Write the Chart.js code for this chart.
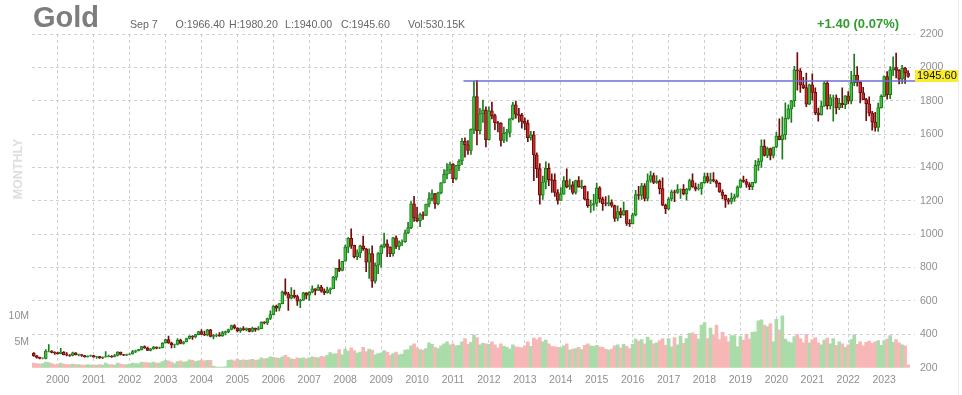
<!DOCTYPE html>
<html>
<head>
<meta charset="utf-8">
<title>Gold monthly</title>
<script src="https://cdn.jsdelivr.net/npm/chart.js@4.4.0/dist/chart.umd.min.js"></script>
<style>
  html, body { margin: 0; padding: 0; background: #fff; }
  #wrap { width: 962px; height: 395px; }
</style>
</head>
<body>
<div id="wrap"><canvas id="gold" width="962" height="395"></canvas></div>
<script>
// monthly candles, first one is May 1999 (x counted in months from Jan 2000)
const firstMonth = -8;

const opens = [
  287,271,262,255,255,299,300,292,
  289,284,293,278,275,273,289,277,278,273,264,270,
  273,265,267,258,264,266,270,265,273,293,279,275,
  279,282,297,301,308,326,318,304,313,324,317,319,
  348,368,348,336,339,364,346,354,375,388,384,398,
  417,400,397,427,387,394,395,391,410,416,429,453,
  438,422,435,428,435,418,437,429,434,473,470,495,
  518,569,557,584,654,643,616,634,626,599,604,648,
  635,652,672,663,683,659,650,666,673,743,795,783,
  838,923,975,933,865,888,930,913,833,884,718,814,
  884,928,942,923,883,979,927,955,955,1008,1040,1182,
  1097,1081,1118,1113,1180,1213,1244,1181,1248,1308,1359,1386,
  1421,1333,1411,1439,1556,1536,1502,1628,1825,1620,1722,1746,
  1566,1740,1711,1669,1664,1562,1604,1610,1691,1776,1719,1712,
  1676,1664,1578,1596,1476,1393,1234,1312,1395,1327,1323,1250,
  1202,1240,1321,1284,1296,1250,1322,1282,1287,1210,1171,1175,
  1184,1278,1212,1183,1182,1190,1172,1095,1135,1115,1142,1065,
  1061,1116,1238,1233,1290,1215,1322,1351,1311,1317,1273,1174,
  1152,1211,1254,1251,1268,1269,1242,1269,1322,1284,1271,1275,
  1309,1345,1318,1327,1319,1305,1253,1233,1206,1196,1215,1226,
  1282,1325,1316,1298,1285,1311,1413,1437,1529,1472,1514,1472,
  1523,1588,1566,1596,1694,1751,1800,1986,1978,1895,1879,1780,
  1895,1850,1728,1715,1768,1906,1771,1817,1818,1757,1784,1776,
  1829,1797,1909,1954,1911,1848,1807,1782,1726,1672,1640,1759,
  1826,1945,1836,1986,1999,1982,1929,1995,1966.4
];
const highs = [
  291,274,264,259,308,339,302,295,
  294,316,297,290,278,293,290,281,279,274,271,276,
  274,268,268,265,296,275,272,280,297,294,280,282,
  285,304,306,310,328,331,323,316,328,325,323,350,
  372,390,354,341,374,371,358,378,393,392,400,418,
  429,420,430,430,398,403,410,418,419,431,456,458,
  440,439,447,439,436,443,438,447,475,477,497,541,
  573,576,585,659,732,652,680,665,635,612,651,650,
  656,691,674,697,694,673,683,678,748,797,848,838,
  935,980,1033,935,906,935,989,916,912,930,828,890,
  936,1007,966,924,982,990,960,966,1025,1072,1196,1227,
  1162,1127,1134,1181,1249,1266,1245,1252,1310,1388,1424,1432,
  1424,1413,1447,1575,1577,1561,1632,1917,1923,1755,1804,1763,
  1764,1792,1720,1676,1669,1642,1629,1693,1790,1798,1755,1725,
  1697,1684,1616,1617,1488,1424,1348,1434,1424,1362,1362,1267,
  1280,1345,1392,1331,1315,1325,1345,1324,1290,1255,1205,1239,
  1307,1286,1223,1225,1232,1206,1175,1170,1157,1192,1142,1088,
  1126,1263,1287,1305,1304,1362,1377,1366,1352,1326,1338,1180,
  1220,1264,1264,1298,1272,1297,1275,1331,1362,1306,1300,1311,
  1366,1367,1366,1370,1326,1309,1266,1236,1215,1246,1241,1290,
  1331,1349,1330,1310,1311,1443,1453,1566,1566,1522,1517,1523,
  1611,1692,1704,1788,1775,1803,2006,2089,1993,1941,1966,1900,
  1962,1877,1756,1798,1916,1919,1837,1834,1836,1814,1877,1831,
  1855,1976,2079,2004,1914,1880,1814,1824,1736,1731,1786,1835,
  1950,1975,2004,2063,2085,1987,2012,2000,1980.2
];
const lows = [
  268,257,252,252,253,294,288,280,
  281,283,276,271,268,271,276,270,268,263,263,268,
  262,255,255,254,263,264,262,264,271,276,272,272,
  277,281,290,300,306,316,302,300,311,312,314,318,
  347,345,319,320,337,342,341,354,372,370,378,396,
  399,392,391,384,372,385,387,388,396,408,426,432,
  415,412,424,420,414,415,418,425,434,462,458,488,
  516,537,540,582,635,543,612,616,573,560,603,612,
  603,648,636,663,652,637,647,642,673,725,776,780,
  838,890,915,858,848,860,903,775,735,681,706,763,
  802,918,866,866,868,913,908,931,951,1003,1033,1076,
  1075,1045,1089,1111,1163,1200,1155,1176,1241,1308,1331,1363,
  1309,1326,1381,1417,1462,1478,1478,1603,1535,1600,1670,1523,
  1563,1691,1627,1613,1527,1548,1556,1583,1685,1696,1672,1636,
  1627,1555,1563,1321,1339,1180,1208,1272,1291,1251,1227,1180,
  1202,1238,1277,1268,1240,1240,1282,1273,1205,1161,1131,1142,
  1167,1191,1142,1169,1170,1162,1077,1080,1099,1113,1052,1046,
  1061,1110,1208,1209,1199,1200,1310,1303,1305,1241,1171,1123,
  1146,1200,1195,1245,1214,1236,1204,1262,1280,1260,1264,1238,
  1305,1307,1303,1313,1282,1250,1211,1160,1180,1182,1196,1221,
  1277,1310,1281,1267,1267,1306,1382,1400,1468,1459,1446,1458,
  1518,1565,1450,1568,1690,1670,1765,1863,1850,1872,1765,1776,
  1803,1717,1677,1714,1766,1750,1751,1677,1721,1746,1759,1753,
  1781,1781,1890,1887,1787,1806,1681,1709,1623,1618,1616,1755,
  1824,1809,1813,1951,1937,1901,1903,1904,1940
];
const closes = [
  271,262,255,255,299,300,292,289,
  284,293,278,275,273,289,277,278,273,264,270,273,
  265,267,258,264,266,270,265,273,293,279,275,279,
  282,297,301,308,326,318,304,313,324,317,319,348,
  368,348,336,339,364,346,354,375,388,384,398,417,
  400,397,427,387,394,395,391,410,416,429,453,438,
  422,435,428,435,418,437,429,434,473,470,495,518,
  569,557,584,654,643,616,634,626,599,604,648,635,
  652,672,663,683,659,650,666,673,743,795,783,838,
  923,975,933,865,888,930,913,833,884,718,814,884,
  928,942,923,883,979,927,955,955,1008,1040,1182,1097,
  1081,1118,1113,1180,1213,1244,1181,1248,1308,1359,1386,1421,
  1333,1411,1439,1556,1536,1502,1628,1825,1620,1722,1746,1566,
  1740,1711,1669,1664,1562,1604,1610,1691,1776,1719,1712,1676,
  1664,1578,1596,1476,1393,1234,1312,1395,1327,1323,1250,1202,
  1240,1321,1284,1296,1250,1322,1282,1287,1210,1171,1175,1184,
  1278,1212,1183,1182,1190,1172,1095,1135,1115,1142,1065,1061,
  1116,1238,1233,1290,1215,1322,1351,1311,1317,1273,1174,1152,
  1211,1254,1251,1268,1269,1242,1269,1322,1284,1271,1275,1309,
  1345,1318,1327,1319,1305,1253,1233,1206,1196,1215,1226,1282,
  1325,1316,1298,1285,1311,1413,1437,1529,1472,1514,1472,1523,
  1588,1566,1596,1694,1751,1800,1986,1978,1895,1879,1780,1895,
  1850,1728,1715,1768,1906,1771,1817,1818,1757,1784,1776,1829,
  1797,1909,1954,1911,1848,1807,1782,1726,1672,1640,1759,1826,
  1945,1836,1986,1999,1982,1929,1995,1966,1945.6
];
// volume in millions
const volumes = [
  0.9,0.8,0.7,0.8,1.1,1.0,0.8,0.6,
  0.7,0.9,0.7,0.6,0.6,0.7,0.6,0.6,0.5,0.5,0.6,0.5,
  0.5,0.5,0.6,0.5,0.9,0.6,0.6,0.5,0.9,0.7,0.6,0.6,
  0.7,0.9,0.8,0.8,1.1,1.0,1.0,0.9,1.1,0.9,0.9,1.2,
  1.4,1.3,1.1,0.8,1.2,1.3,1.1,1.2,1.5,1.4,1.2,1.3,
  1.5,1.3,1.4,1.4,0.3,0.1,0.1,0.1,0.2,1.4,1.5,1.3,
  1.6,1.4,1.5,1.4,1.5,1.6,1.4,1.5,1.9,1.7,1.8,2.1,
  2.0,1.9,1.8,2.1,2.4,2.0,1.7,1.6,1.9,1.8,1.9,1.7,
  1.9,2.1,2.0,1.9,2.2,2.1,2.4,2.9,2.6,2.7,3.5,2.5,
  3.6,3.2,3.8,3.3,2.8,3.0,3.9,3.1,3.6,3.4,2.5,2.7,
  2.8,3.3,3.0,2.4,2.7,3.0,2.5,2.6,3.4,3.5,4.2,4.6,
  3.8,3.5,3.4,3.7,4.8,4.5,3.9,3.7,4.2,4.6,5.0,4.4,
  4.6,4.2,4.3,5.0,5.6,4.5,4.9,6.3,5.8,4.4,4.7,4.6,
  4.5,5.0,4.4,3.8,4.6,4.1,3.9,3.6,4.4,4.0,3.9,3.8,
  4.2,5.0,4.1,5.7,5.4,5.8,5.0,5.3,4.6,4.1,4.0,3.9,
  3.8,4.2,4.6,3.4,3.6,3.7,3.9,3.5,4.3,4.6,4.2,4.1,
  4.3,4.0,3.9,3.6,3.4,3.6,4.2,4.4,3.8,4.5,4.1,3.7,
  4.5,5.5,5.1,5.4,4.6,5.9,5.3,4.6,4.8,5.2,5.6,4.3,
  5.6,4.0,5.8,4.4,6.1,4.7,5.6,6.6,6.7,6.4,5.5,8.2,
  8.7,5.6,7.6,6.3,8.2,5.4,6.8,6.0,5.0,6.2,6.2,4.0,
  6.0,5.3,6.4,5.5,6.8,6.9,9.0,9.2,8.2,7.9,8.5,5.0,
  9.3,7.3,10.0,5.5,5.0,4.8,6.0,6.4,5.6,4.8,6.4,4.8,
  5.4,5.8,4.8,4.4,5.3,5.7,4.6,5.6,4.3,5.0,4.6,3.9,
  4.4,5.4,6.3,4.5,5.0,4.2,4.9,5.1,4.7,5.0,5.2,4.3,
  5.2,5.5,6.2,4.9,5.4,4.8,4.4,4.2,0.53
];

const years = ['2000','2001','2002','2003','2004','2005','2006','2007','2008','2009','2010','2011',
               '2012','2013','2014','2015','2016','2017','2018','2019','2020','2021','2022','2023'];
const priceTicks = [200, 400, 600, 800, 1000, 1200, 1400, 1600, 1800, 2000, 2200];
const volumeTicks = [5, 10];

// horizontal level drawn from the 2011 top
const resistanceLevel = 1918;
const resistanceStart = 135.5;

const quoteDate = 'Sep 7';
const quoteVolume = '530.15K';
const quoteChange = '+1.40 (0.07%)';

const xMin = -8.6, xMax = 286.3;
const last = closes.length - 1;

const upFill = '#3ec63e', upLine = '#1e7b1e';
const downFill = '#cf2b2b', downLine = '#6f0b0b';
const volUp = '#a9dca9', volDown = '#f8b7b7';
const gridColor = '#cfcfcf';
const tickColor = '#8f8f8f';
const fontFamily = '"Liberation Sans", Arial, sans-serif';

Chart.defaults.font.family = fontFamily;

function isUp(i) {
    return closes[i] >= opens[i];
}

const overlay = {
    id: 'overlay',
    afterDraw(chart) {
        const ctx = chart.ctx;
        ctx.save();

        // title + quote line
        ctx.textBaseline = 'alphabetic';
        ctx.textAlign = 'left';
        ctx.fillStyle = '#7d7d7d';
        ctx.font = 'bold 29px ' + fontFamily;
        ctx.fillText('Gold', 33, 27);

        ctx.fillStyle = '#666';
        ctx.font = '10.6px ' + fontFamily;
        ctx.fillText(quoteDate, 130, 27.5);
        ctx.fillText('O:' + opens[last].toFixed(2), 175.5, 27.5);
        ctx.fillText('H:' + highs[last].toFixed(2), 229, 27.5);
        ctx.fillText('L:' + lows[last].toFixed(2), 285, 27.5);
        ctx.fillText('C:' + closes[last].toFixed(2), 341, 27.5);
        ctx.fillText('Vol:' + quoteVolume, 408, 27.5);

        ctx.fillStyle = '#2f9e2f';
        ctx.font = 'bold 13px ' + fontFamily;
        ctx.fillText(quoteChange, 817, 27.5);

        // period label on the left
        ctx.save();
        ctx.translate(19, 169);
        ctx.rotate(-Math.PI / 2);
        ctx.textAlign = 'center';
        ctx.textBaseline = 'middle';
        ctx.fillStyle = '#dedede';
        ctx.font = 'bold 12.5px ' + fontFamily;
        ctx.fillText('MONTHLY', 0, 0);
        ctx.restore();

        // right border
        ctx.strokeStyle = '#ececec';
        ctx.lineWidth = 1;
        ctx.beginPath();
        ctx.moveTo(958.5, 0);
        ctx.lineTo(958.5, 395);
        ctx.stroke();

        // last price tag
        const y = Math.round(chart.scales.y.getPixelForValue(closes[last]));
        ctx.fillStyle = '#f9ec2c';
        ctx.fillRect(915, y - 6, 43, 12);
        ctx.fillStyle = '#111';
        ctx.font = '11px ' + fontFamily;
        ctx.textBaseline = 'middle';
        ctx.fillText(closes[last].toFixed(2), 917, y);

        ctx.restore();
    }
};

new Chart(document.getElementById('gold'), {
    type: 'bar',
    data: {
        datasets: [
            {
                type: 'line',
                data: [{ x: resistanceStart, y: resistanceLevel }, { x: xMax, y: resistanceLevel }],
                borderColor: '#6c6cd2',
                borderWidth: 1.5,
                pointRadius: 0,
                yAxisID: 'y',
                order: 0
            },
            {
                // candle bodies
                data: opens.map((o, i) => ({ x: i + firstMonth, y: [o, closes[i]] })),
                backgroundColor: opens.map((o, i) => isUp(i) ? upFill : downFill),
                borderColor: opens.map((o, i) => isUp(i) ? upLine : downLine),
                borderWidth: 1,
                borderSkipped: false,
                barThickness: 3,
                grouped: false,
                yAxisID: 'y',
                order: 1
            },
            {
                // wicks
                data: lows.map((l, i) => ({ x: i + firstMonth, y: [l, highs[i]] })),
                backgroundColor: lows.map((l, i) => isUp(i) ? upLine : downLine),
                borderWidth: 0,
                barThickness: 1,
                grouped: false,
                yAxisID: 'y',
                order: 2
            },
            {
                // volume
                data: volumes.map((v, i) => ({ x: i + firstMonth, y: v })),
                backgroundColor: volumes.map((v, i) => isUp(i) ? volUp : volDown),
                borderWidth: 0,
                barPercentage: 1,
                categoryPercentage: 1,
                grouped: false,
                yAxisID: 'yv',
                order: 3
            }
        ]
    },
    options: {
        responsive: false,
        animation: false,
        layout: { padding: { top: 34, left: 0, right: 0, bottom: 0 } },
        plugins: {
            legend: { display: false },
            tooltip: { enabled: false }
        },
        scales: {
            x: {
                type: 'linear',
                min: xMin,
                max: xMax,
                offset: false,
                afterBuildTicks: (scale) => {
                    scale.ticks = years.map((y, k) => ({ value: k * 12 }));
                },
                afterFit: (scale) => { scale.height = 27.3; },
                ticks: {
                    autoSkip: false,
                    maxRotation: 0,
                    color: tickColor,
                    font: { size: 10.5 },
                    padding: 6,
                    callback: (v) => years[Math.round(v / 12)]
                },
                grid: { color: gridColor, drawTicks: false, offset: false, borderDash: [3, 3] },
                border: { display: false, dash: [3, 3] }
            },
            y: {
                position: 'right',
                min: 200,
                max: 2200,
                afterBuildTicks: (scale) => {
                    scale.ticks = priceTicks.map(v => ({ value: v }));
                },
                afterFit: (scale) => { scale.width = 47; },
                ticks: {
                    color: tickColor,
                    font: { size: 10.5 },
                    padding: 5,
                    callback: (v) => String(v)
                },
                grid: {
                    color: (c) => (c.tick && c.tick.value === 200) ? 'rgba(0,0,0,0)' : gridColor,
                    drawTicks: false,
                    borderDash: [3, 3]
                },
                border: { display: false, dash: [3, 3] }
            },
            yv: {
                position: 'left',
                min: 0,
                max: 64.2,
                afterBuildTicks: (scale) => {
                    scale.ticks = volumeTicks.map(v => ({ value: v }));
                },
                afterFit: (scale) => { scale.width = 32; },
                ticks: {
                    color: tickColor,
                    font: { size: 10.5 },
                    padding: 3,
                    callback: (v) => v + 'M'
                },
                grid: { display: false, drawTicks: false },
                border: { display: false }
            }
        }
    },
    plugins: [overlay]
});
</script>
</body>
</html>
